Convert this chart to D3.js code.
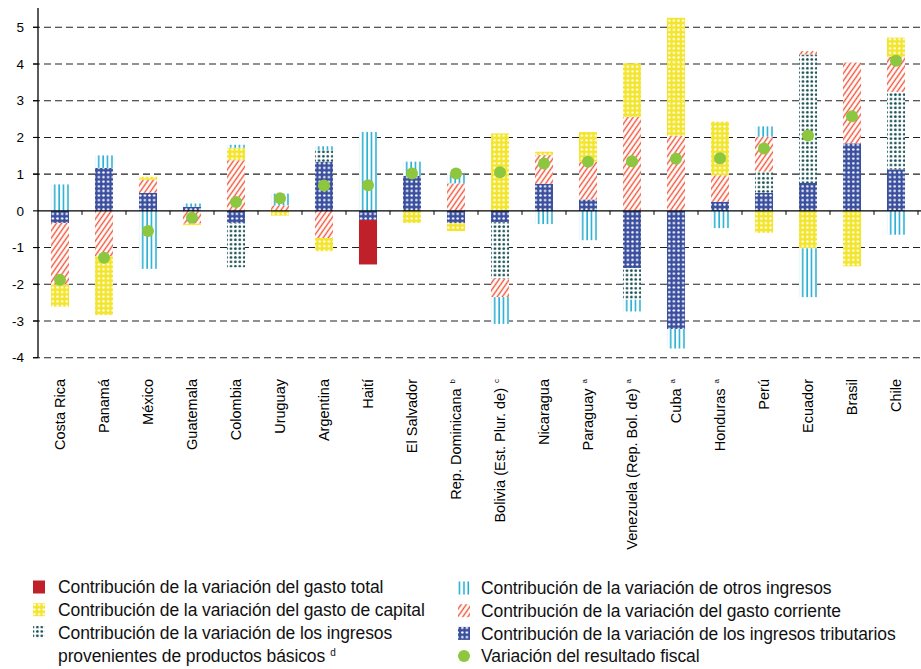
<!DOCTYPE html>
<html>
<head>
<meta charset="utf-8">
<script src="https://cdn.jsdelivr.net/npm/d3@7"></script>
<style>
html,body{margin:0;padding:0;background:#fff;}
svg{display:block;font-family:"Liberation Sans",Arial,sans-serif;}
</style>
</head>
<body>
<svg id="chart" width="921" height="669"></svg>
<script>
const categories = ["Costa Rica","Panamá","México","Guatemala","Colombia","Uruguay","Argentina","Haití","El Salvador","Rep. Dominicana","Bolivia (Est. Plur. de)","Nicaragua","Paraguay","Venezuela (Rep. Bol. de)","Cuba","Honduras","Perú","Ecuador","Brasil","Chile"];
const notes = ["","","","","","","","","","b","c","","a","a","a","a","","","",""];

const tributarios = [-0.33, 1.17, 0.49, 0.11, -0.33, 0, 1.34, -0.25, 0.95, -0.33, -0.31, 0.74, 0.31, -1.56, -3.22, 0.25, 0.49, 0.76, 1.84, 1.13];
const basicos     = [0, 0, 0, 0, -1.21, 0, 0.32, 0, 0, 0, -1.54, 0, 0, -0.86, 0, 0, 0.58, 3.5, 0, 2.11];
const corriente   = [-1.68, -1.24, 0.36, -0.35, 1.38, 0.15, -0.74, 0, 0, 0.75, -0.5, 0.78, 1.03, 2.56, 2.05, 0.72, 0.95, 0.09, 2.2, 0.96];
const capital     = [-0.6, -1.6, 0.08, -0.04, 0.34, -0.13, -0.36, 0, -0.33, -0.22, 2.11, 0.09, 0.81, 1.46, 3.21, 1.46, -0.6, -1.02, -1.51, 0.52];
const gastoTotal  = [0, 0, 0, 0, 0, 0, 0, -1.21, 0, 0, 0, 0, 0, 0, 0, 0, 0, 0, 0, 0];
const otros       = [0.72, 0.34, -1.58, 0.09, 0.08, 0.32, 0.1, 2.15, 0.39, 0.24, -0.73, -0.36, -0.8, -0.32, -0.53, -0.47, 0.28, -1.33, 0, -0.65];
const resultado   = [-1.88, -1.28, -0.55, -0.19, 0.24, 0.34, 0.69, 0.7, 1.02, 1.02, 1.05, 1.29, 1.34, 1.35, 1.42, 1.43, 1.7, 2.05, 2.58, 4.09];

const yTicks = [-4,-3,-2,-1,0,1,2,3,4,5];

const seriesKeys = ["tributarios","basicos","corriente","capital","total","otros"];
const seriesData = {tributarios, basicos, corriente, capital, total: gastoTotal, otros};

const legendLeft = [
  {key:"total", text:["Contribución de la variación del gasto total"]},
  {key:"capital", text:["Contribución de la variación del gasto de capital"]},
  {key:"basicos", text:["Contribución de la variación de los ingresos","provenientes de productos básicos"], sup:"d"}
];
const legendRight = [
  {key:"otros", text:["Contribución de la variación de otros ingresos"]},
  {key:"corriente", text:["Contribución de la variación del gasto corriente"]},
  {key:"tributarios", text:["Contribución de la variación de los ingresos tributarios"]},
  {key:"dot", text:["Variación del resultado fiscal"]}
];

const svg = d3.select("#chart");
const defs = svg.append("defs");

// patterns
function dotPattern(id, bg, dot, size, r){
  const p = defs.append("pattern").attr("id",id).attr("patternUnits","userSpaceOnUse")
    .attr("width",size).attr("height",size);
  p.append("rect").attr("width",size).attr("height",size).attr("fill",bg);
  p.append("circle").attr("cx",size/2).attr("cy",size/2).attr("r",r).attr("fill",dot);
}
dotPattern("p-trib","#3b4f9f","#ffffff",4.6,1.25);
dotPattern("p-cap","#f3e52c","#ffffff",4.6,1.2);
dotPattern("p-bas","#ffffff","#174f52",4.4,1.35);
(function(){
  const p = defs.append("pattern").attr("id","p-otros").attr("patternUnits","userSpaceOnUse")
    .attr("width",4.4).attr("height",10);
  p.append("rect").attr("width",4.4).attr("height",10).attr("fill","#ffffff");
  p.append("rect").attr("x",1.2).attr("width",1.5).attr("height",10).attr("fill","#19a9cf");
})();
(function(){
  const p = defs.append("pattern").attr("id","p-corr").attr("patternUnits","userSpaceOnUse")
    .attr("width",4.2).attr("height",10).attr("patternTransform","rotate(35)");
  p.append("rect").attr("width",4.2).attr("height",10).attr("fill","#ffffff");
  p.append("rect").attr("x",1.4).attr("width",1.4).attr("height",10).attr("fill","#f0553a");
})();

const fills = {tributarios:"url(#p-trib)", basicos:"url(#p-bas)", corriente:"url(#p-corr)",
  capital:"url(#p-cap)", total:"#c0202a", otros:"url(#p-otros)"};

const x = d3.scaleBand().domain(categories).range([38,918]).paddingInner(0.59).paddingOuter(0.295);
const y = d3.scaleLinear().domain([-4,5]).range([357.7,27.3]);
const step = x.step();

// grid lines
svg.append("g").selectAll("line").data(yTicks.filter(d=>d!==0)).join("line")
  .attr("x1",33).attr("x2",921).attr("y1",d=>y(d)).attr("y2",d=>y(d))
  .attr("stroke","#222").attr("stroke-width",1.1).attr("stroke-dasharray","7,4");

// stacked bars
const rows = categories.map((c,i)=>{
  const o = {cat:c};
  seriesKeys.forEach(k=>o[k]=seriesData[k][i]);
  return o;
});
const stack = d3.stack().keys(seriesKeys).offset(d3.stackOffsetDiverging);
const stacked = stack(rows);

svg.append("g").selectAll("g").data(stacked).join("g")
  .attr("fill",d=>fills[d.key])
  .selectAll("rect").data(d=>d.filter(s=>s[1]!==s[0])).join("rect")
  .attr("x",d=>x(d.data.cat))
  .attr("width",x.bandwidth())
  .attr("y",d=>y(Math.max(d[0],d[1])))
  .attr("height",d=>Math.abs(y(d[0])-y(d[1])));

// y axis
const yAxis = svg.append("g");
yAxis.append("line").attr("x1",38).attr("x2",38).attr("y1",8).attr("y2",y(-4))
  .attr("stroke","#000").attr("stroke-width",1.3);
yAxis.selectAll("line.t").data(yTicks).join("line").attr("class","t")
  .attr("x1",33).attr("x2",38).attr("y1",d=>y(d)).attr("y2",d=>y(d))
  .attr("stroke","#000").attr("stroke-width",1.1);
yAxis.selectAll("text").data(yTicks).join("text")
  .attr("x",24).attr("y",d=>y(d)).attr("dy","0.35em").attr("text-anchor","end")
  .attr("font-size",13.5).attr("fill","#000").text(d=>d);

// zero line + category ticks
svg.append("line").attr("x1",38).attr("x2",921).attr("y1",y(0)).attr("y2",y(0))
  .attr("stroke","#000").attr("stroke-width",1.4);
svg.append("g").selectAll("line").data(d3.range(1,categories.length+1)).join("line")
  .attr("x1",d=>38+d*step).attr("x2",d=>38+d*step)
  .attr("y1",y(0)).attr("y2",y(0)+4).attr("stroke","#000").attr("stroke-width",1);

// points
svg.append("g").selectAll("circle").data(resultado).join("circle")
  .attr("cx",(d,i)=>x(categories[i])+x.bandwidth()/2)
  .attr("cy",d=>y(d)).attr("r",6).attr("fill","#8dc63f");

// x labels
const lab = svg.append("g").selectAll("text").data(categories).join("text")
  .attr("transform",d=>`translate(${x(d)+x.bandwidth()/2+5},379) rotate(-90)`)
  .attr("text-anchor","end").attr("font-size",14.5).attr("fill","#000");
lab.append("tspan").text(d=>d);
lab.append("tspan").attr("font-size",8).attr("dx",(d,i)=>notes[i]?5:0).attr("dy",(d,i)=>notes[i]?-6:0)
  .text((d,i)=>notes[i]);

// legend
function swatch(g, key, sx, sy){
  if(key==="dot"){
    g.append("circle").attr("cx",sx+6).attr("cy",sy+6.5).attr("r",6).attr("fill","#8dc63f");
  } else {
    g.append("rect").attr("x",sx).attr("y",sy).attr("width",12).attr("height",13).attr("fill",fills[key]);
  }
}
function legendCol(items, sx, tx, y0){
  const g = svg.append("g");
  let yy = y0;
  items.forEach(it=>{
    swatch(g, it.key, sx, yy-6.5);
    it.text.forEach((t,j)=>{
      const te = g.append("text").attr("x",tx).attr("y",yy+ j*23).attr("dy","0.35em")
        .attr("font-size",17.5).attr("fill","#111").attr("letter-spacing",-0.1).text(t);
      if(it.sup && j===it.text.length-1){
        te.append("tspan").attr("font-size",10).attr("dx",5).attr("dy",-6).text(it.sup);
      }
    });
    yy += 22.7*it.text.length;
  });
}
legendCol(legendLeft, 33, 58, 587);
legendCol(legendRight, 458, 481, 588);
</script>
</body>
</html>
